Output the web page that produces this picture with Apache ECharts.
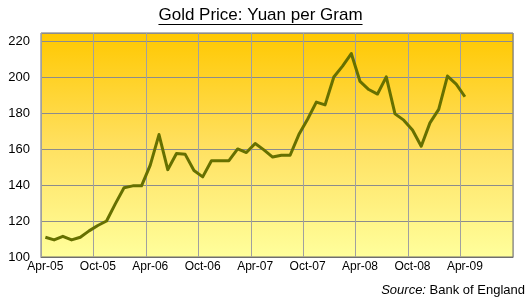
<!DOCTYPE html>
<html>
<head>
<meta charset="utf-8">
<script src="https://cdn.jsdelivr.net/npm/echarts@6/dist/echarts.min.js"></script>
<style>
html,body{margin:0;padding:0;background:#fff;}
#c{width:531px;height:307px;}
</style>
</head>
<body>
<div id="c"></div>
<script>
var titleText = 'Gold Price: Yuan per Gram';
var sourceLabel = 'Source:';
var sourceName = ' Bank of England';

// Monthly categories (the axis runs Apr-05 .. Sep-09; data ends Apr-09)
var months = [
  'Apr-05','May-05','Jun-05','Jul-05','Aug-05','Sep-05',
  'Oct-05','Nov-05','Dec-05','Jan-06','Feb-06','Mar-06',
  'Apr-06','May-06','Jun-06','Jul-06','Aug-06','Sep-06',
  'Oct-06','Nov-06','Dec-06','Jan-07','Feb-07','Mar-07',
  'Apr-07','May-07','Jun-07','Jul-07','Aug-07','Sep-07',
  'Oct-07','Nov-07','Dec-07','Jan-08','Feb-08','Mar-08',
  'Apr-08','May-08','Jun-08','Jul-08','Aug-08','Sep-08',
  'Oct-08','Nov-08','Dec-08','Jan-09','Feb-09','Mar-09',
  'Apr-09','May-09','Jun-09','Jul-09','Aug-09','Sep-09'
];

// Gold price, yuan per gram
var goldYuan = [
  111, 109.5, 111.5, 109.5, 111, 114.5,
  117.5, 120, 129.5, 138.5, 139.5, 139.5,
  151, 168, 148.5, 157.5, 157, 148,
  144.5, 153.5, 153.5, 153.5, 160, 158,
  163, 159.5, 155.5, 156.5, 156.5, 168,
  176.5, 186, 184.5, 200, 206, 213,
  197.5, 193, 190.5, 200, 179.5, 176,
  170.5, 161.5, 174.5, 182, 200.5, 196,
  189
];

var yMin = 100, yMax = 224.4, yStep = 20;

var chart = echarts.init(document.getElementById('c'), null, {renderer: 'canvas'});
var font = '"Liberation Sans", Arial, sans-serif';

chart.setOption({
  animation: false,
  backgroundColor: '#ffffff',
  grid: {
    left: 41, top: 33, width: 472, height: 224,
    show: true,
    borderColor: '#6e6e6e', borderWidth: 1,
    backgroundColor: new echarts.graphic.LinearGradient(0, 0, 0, 1, [
      {offset: 0, color: '#ffc800'},
      {offset: 0.5, color: '#ffe060'},
      {offset: 1, color: '#ffff9c'}
    ])
  },
  xAxis: {
    type: 'category',
    data: months,
    boundaryGap: true,
    axisLine: {show: true, lineStyle: {color: '#6e6e6e'}},
    axisTick: {show: false},
    axisLabel: {
      interval: 5, margin: 4,
      color: '#000', fontSize: 12, fontFamily: font
    },
    splitLine: {show: true, interval: 5, lineStyle: {color: '#a0a0a0', width: 1}}
  },
  yAxis: {
    type: 'value',
    min: yMin, max: yMax, interval: yStep,
    axisLine: {show: false},
    axisTick: {show: false},
    axisLabel: {
      showMaxLabel: false, margin: 11,
      color: '#000', fontSize: 13, fontFamily: font,
      formatter: function (v) { return (v % yStep === 0) ? String(v) : ''; }
    },
    splitLine: {show: true, lineStyle: {color: '#8c8c8c', width: 1}}
  },
  series: [{
    type: 'line',
    data: goldYuan,
    symbol: 'none',
    lineStyle: {color: '#667000', width: 3, join: 'round'},
    itemStyle: {color: '#667000'}
  }],
  graphic: [
    {
      type: 'text', left: 'center', top: 7,
      x: 0,
      style: {text: titleText, fill: '#000', font: '17px ' + font}
    },
    {
      type: 'text', right: 6, top: 284,
      style: {
        rich: {
          i: {fontStyle: 'italic', fontSize: 13, fontFamily: font, fill: '#000'},
          n: {fontSize: 13, fontFamily: font, fill: '#000'}
        },
        text: '{i|' + sourceLabel + '}{n|' + sourceName + '}'
      }
    }
  ]
});

// underline beneath the title, matched to the rendered title width
var zr = chart.getZr();
var tEl = null;
zr.storage.getDisplayList(true).forEach(function (el) {
  if (el.style && el.style.text === titleText) tEl = el;
});
var w = echarts.format.getTextRect ? 0 : 0;
var ctx = document.createElement('canvas').getContext('2d');
ctx.font = '17px ' + font;
var tw = ctx.measureText(titleText).width;
var cx = 265.5 - 5;
chart.setOption({
  graphic: [
    {
      type: 'text', left: null, top: 7, x: cx - tw / 2,
      style: {text: titleText, fill: '#000', font: '17px ' + font}
    },
    {},
    {
      type: 'line',
      shape: {x1: cx - tw / 2, y1: 24.5, x2: cx + tw / 2, y2: 24.5},
      style: {stroke: '#000', lineWidth: 1}
    }
  ]
});
</script>
</body>
</html>
